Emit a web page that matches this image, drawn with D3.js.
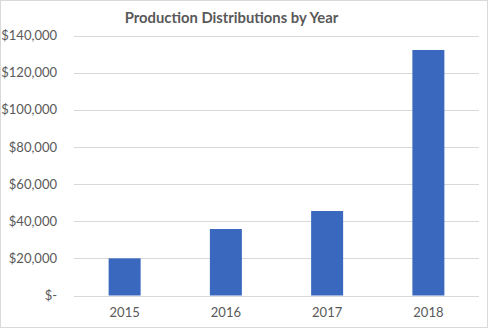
<!DOCTYPE html>
<html>
<head>
<meta charset="utf-8">
<script src="https://cdn.jsdelivr.net/npm/d3@7"></script>
<style>
  html, body { margin: 0; padding: 0; background: #fff; }
  svg { display: block; }
</style>
</head>
<body>
<svg id="chart" width="490" height="329"></svg>
<script>
const title = "Production Distributions by Year";
const years = ["2015", "2016", "2017", "2018"];
const distributions = [20000, 35800, 45500, 132200];
const yTicks = [0, 20000, 40000, 60000, 80000, 100000, 120000, 140000];

const W = 490, H = 329;
const margin = { left: 74, right: 11, top: 35.5, bottom: 33.5 };
const svg = d3.select("#chart");
const font = "Lato, Carlito, Calibri, 'Liberation Sans', sans-serif";
const textColor = "#595959";

svg.append("rect")
  .attr("x", 0.5).attr("y", 0.5)
  .attr("width", 487).attr("height", 327)
  .attr("fill", "#fff").attr("stroke", "#d9d9d9").attr("stroke-width", 1);

const x = d3.scaleBand().domain(years)
  .range([margin.left, W - margin.right])
  .paddingInner(0.684).paddingOuter(0.342);
const y = d3.scaleLinear().domain([0, 140000])
  .range([H - margin.bottom, margin.top]);

// gridlines
svg.append("g").selectAll("line").data(yTicks).join("line")
  .attr("x1", margin.left).attr("x2", W - margin.right)
  .attr("y1", d => Math.round(y(d)) + 0.5).attr("y2", d => Math.round(y(d)) + 0.5)
  .attr("stroke", "#d9d9d9").attr("stroke-width", 1);

// y axis labels
const fmt = d => d === 0 ? "$-" : "$" + d3.format(",")(d);
const yAxis = d3.axisLeft(y).tickValues(yTicks).tickFormat(fmt).tickSize(0).tickPadding(17);
const gy = svg.append("g").attr("transform", `translate(${margin.left},0)`).call(yAxis);
gy.select(".domain").remove();
gy.selectAll("text").attr("font-family", font).attr("font-size", 13).attr("fill", textColor);

// bars
svg.append("g").selectAll("rect").data(years).join("rect")
  .attr("x", d => x(d))
  .attr("width", x.bandwidth())
  .attr("y", (d, i) => y(distributions[i]))
  .attr("height", (d, i) => y(0) - y(distributions[i]))
  .attr("fill", "#3a68bf");

// x axis
const xAxis = d3.axisBottom(x).tickSize(0).tickPadding(12);
const gx = svg.append("g").attr("transform", `translate(0,${y(0)})`).call(xAxis);
gx.select(".domain").remove();
gx.selectAll("text").attr("font-family", font).attr("font-size", 13).attr("fill", textColor);

// title
svg.append("text")
  .attr("x", 231.5).attr("y", 23)
  .attr("text-anchor", "middle")
  .attr("font-family", font).attr("font-size", 14.8).attr("font-weight", "bold")
  .attr("fill", textColor)
  .text(title);
</script>
</body>
</html>
